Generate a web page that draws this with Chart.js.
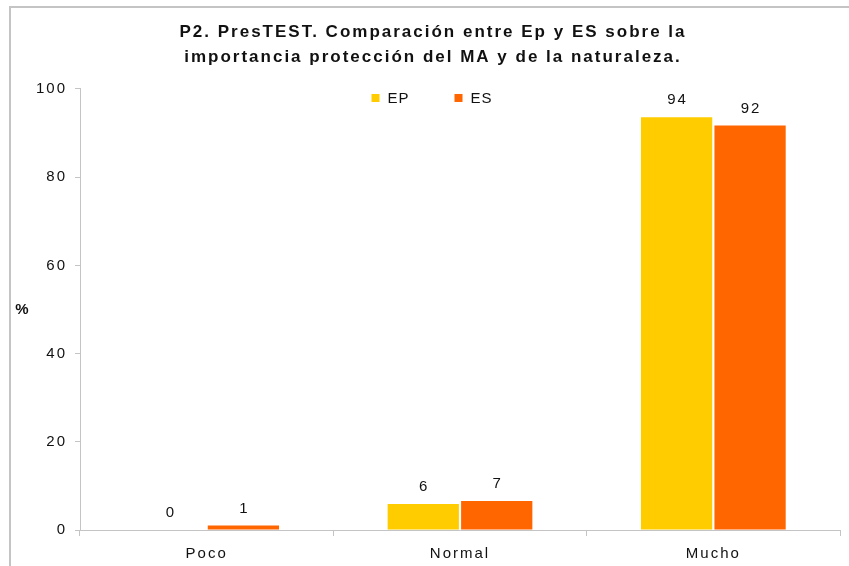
<!DOCTYPE html>
<html>
<head>
<meta charset="utf-8">
<script src="https://cdn.jsdelivr.net/npm/chart.js@4/dist/chart.umd.min.js"></script>
<style>
  html, body { margin: 0; padding: 0; background: #ffffff; }
  #wrap { width: 849px; height: 566px; position: relative; }
</style>
</head>
<body>
<div id="wrap"><canvas id="c" width="849" height="566"></canvas></div>
<script>
const categories = ['Poco', 'Normal', 'Mucho'];
const seriesNames = ['EP', 'ES'];
const epValues = [0, 5.9, 93.6];
const esValues = [1.0, 6.6, 91.7];
const epLabels = ['0', '6', '94'];
const esLabels = ['1', '7', '92'];
const yTicks = [0, 20, 40, 60, 80, 100];
const titleLines = ['P2. PresTEST. Comparación entre Ep y ES sobre la', 'importancia protección del MA y de la naturaleza.'];
const yAxisLabel = '%';

const FONT = '"Liberation Sans", Arial, sans-serif';
const GRAY = '#c4c4c4';
const SPACING = '2px';

const spacingPlugin = {
  id: 'spacing',
  beforeInit(chart) { chart.ctx.letterSpacing = SPACING; },
  beforeUpdate(chart) { chart.ctx.letterSpacing = SPACING; },
  beforeLayout(chart) { chart.ctx.letterSpacing = SPACING; },
  beforeDraw(chart) { chart.ctx.letterSpacing = SPACING; }
};

const framePlugin = {
  id: 'frame',
  beforeDraw(chart) {
    const ctx = chart.ctx;
    ctx.save();
    ctx.fillStyle = '#ffffff';
    ctx.fillRect(0, 0, chart.width, chart.height);
    ctx.fillStyle = GRAY;
    ctx.fillRect(9, 6, chart.width - 9, 2);
    ctx.fillRect(9, 6, 2, chart.height - 6);
    ctx.restore();
  }
};

const customLegend = {
  id: 'customLegend',
  afterDraw(chart) {
    const ctx = chart.ctx, ca = chart.chartArea;
    const box = 8, gapText = 8, gapItem = 45;
    ctx.save();
    ctx.letterSpacing = '1px';
    ctx.font = '15px ' + FONT;
    ctx.textBaseline = 'middle';
    ctx.textAlign = 'left';
    const items = chart.data.datasets.map(ds => ({
      label: ds.label, color: ds.backgroundColor,
      w: box + gapText + ctx.measureText(ds.label).width
    }));
    const total = items.reduce((s, it) => s + it.w, 0) + gapItem * (items.length - 1);
    const cx = ca.left + 352;
    const cy = ca.top + 9;
    let x = cx - total / 2;
    items.forEach(it => {
      ctx.fillStyle = it.color;
      ctx.fillRect(x, cy - box / 2, box, box);
      ctx.fillStyle = '#111111';
      ctx.fillText(it.label, x + box + gapText, cy + 1);
      x += it.w + gapItem;
    });
    ctx.restore();
  }
};

const valueLabels = {
  id: 'valueLabels',
  afterDatasetsDraw(chart) {
    const ctx = chart.ctx;
    const labelSets = [epLabels, esLabels];
    ctx.save();
    ctx.font = '15px ' + FONT;
    ctx.fillStyle = '#111111';
    ctx.textAlign = 'center';
    ctx.textBaseline = 'alphabetic';
    chart.data.datasets.forEach((ds, i) => {
      const meta = chart.getDatasetMeta(i);
      meta.data.forEach((el, j) => {
        ctx.fillText(labelSets[i][j], el.x + 1, el.y - 13);
      });
    });
    ctx.font = 'bold 15px ' + FONT;
    ctx.textAlign = 'center';
    ctx.textBaseline = 'middle';
    ctx.fillText(yAxisLabel, 23, 310);
    ctx.restore();
  }
};

new Chart(document.getElementById('c'), {
  type: 'bar',
  data: {
    labels: categories,
    datasets: [
      { label: seriesNames[0], data: epValues, backgroundColor: '#FFCC00', borderWidth: 0,
        categoryPercentage: 0.58, barPercentage: 0.97 },
      { label: seriesNames[1], data: esValues, backgroundColor: '#FF6600', borderWidth: 0,
        categoryPercentage: 0.58, barPercentage: 0.97 }
    ]
  },
  options: {
    responsive: false,
    animation: false,
    layout: { padding: { left: 26, right: 9, top: 0, bottom: 0 } },
    plugins: {
      title: {
        display: true,
        text: titleLines,
        color: '#111111',
        font: { family: FONT, size: 17, weight: 'bold', lineHeight: 1.47 },
        padding: { top: 20, bottom: 19 }
      },
      legend: { display: false },
      tooltip: { enabled: false }
    },
    scales: {
      x: {
        grid: { display: true, drawOnChartArea: false, drawTicks: true, tickLength: 6, color: GRAY, offset: true },
        border: { display: true, color: GRAY, width: 1 },
        ticks: { color: '#111111', font: { family: FONT, size: 15 }, padding: 9 },
        afterFit(s) { s.height = 36; }
      },
      y: {
        min: 0, max: 100,
        afterBuildTicks(s) { s.ticks = yTicks.map(v => ({ value: v })); },
        grid: { display: true, drawOnChartArea: false, drawTicks: true, tickLength: 5, color: GRAY },
        border: { display: true, color: GRAY, width: 1 },
        ticks: { color: '#111111', font: { family: FONT, size: 15 }, padding: 8 },
        afterFit(s) { s.width = 54; }
      }
    }
  },
  plugins: [spacingPlugin, framePlugin, customLegend, valueLabels]
});
</script>
</body>
</html>
